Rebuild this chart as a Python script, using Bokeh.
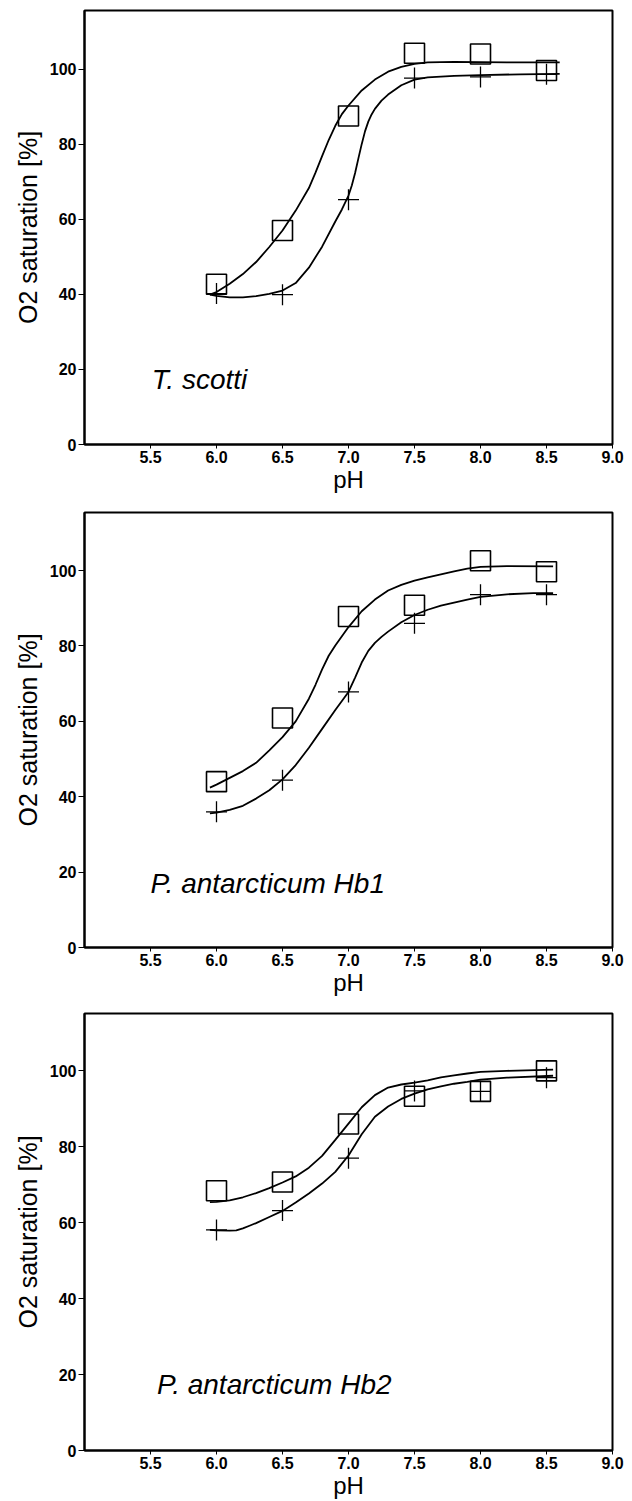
from bokeh.plotting import figure
from bokeh.layouts import column
from bokeh.models import Range1d, FixedTicker, PrintfTickFormatter, Label
from bokeh.embed import file_html
from bokeh.resources import INLINE

# Measured pH values
ph = [6.0, 6.5, 7.0, 7.5, 8.0, 8.5]

# T. scotti: O2 saturation (%) for the two series
scotti_square = [42.7, 57.0, 87.5, 104.2, 104.0, 99.6]
scotti_cross = [40.2, 39.9, 65.2, 97.6, 97.9, 98.6]

# P. antarcticum Hb1
hb1_square = [44.0, 60.9, 87.8, 90.8, 102.6, 99.7]
hb1_cross = [36.0, 44.4, 67.8, 86.0, 93.6, 93.6]

# P. antarcticum Hb2
hb2_square = [68.4, 70.7, 86.0, 93.3, 94.6, 100.0]
hb2_cross = [58.1, 63.2, 77.0, 94.7, 94.6, 98.2]

# Fitted curves (pH, saturation)
scotti_fit_sq_x = [5.95, 6.0, 6.1, 6.2, 6.3, 6.4, 6.5, 6.6, 6.7, 6.75, 6.8, 6.85, 6.9, 6.95,
                   7.0, 7.1, 7.2, 7.3, 7.4, 7.5, 7.6, 7.8, 8.2, 8.6]
scotti_fit_sq_y = [39.9, 40.6, 42.8, 45.4, 48.6, 52.6, 57.0, 62.3, 68.3, 72.4, 76.8, 81.1, 84.9, 88.0,
                   90.3, 94.3, 97.2, 99.3, 100.6, 101.4, 101.8, 101.9, 101.8, 101.8]
scotti_fit_cr_x = [5.95, 6.0, 6.1, 6.2, 6.3, 6.4, 6.5, 6.6, 6.7, 6.8, 6.9, 6.95, 7.0, 7.025, 7.05,
                   7.075, 7.1, 7.125, 7.15, 7.175, 7.2, 7.25, 7.3, 7.4, 7.5, 7.6, 7.8, 8.0, 8.3, 8.6]
scotti_fit_cr_y = [39.9, 39.6, 39.2, 39.2, 39.5, 40.1, 41.0, 43.0, 47.1, 52.7, 59.4, 62.6, 66.3, 69.0, 72.3,
                   76.2, 80.0, 83.4, 86.0, 87.9, 89.4, 91.6, 93.2, 95.7, 97.2, 97.8, 98.2, 98.4, 98.6, 98.7]

hb1_fit_sq_x = [5.95, 6.0, 6.1, 6.2, 6.3, 6.4, 6.5, 6.6, 6.7, 6.75, 6.8, 6.85, 6.9, 7.0, 7.1,
                7.2, 7.3, 7.4, 7.5, 7.6, 7.7, 7.8, 7.9, 8.0, 8.2, 8.55]
hb1_fit_sq_y = [42.4, 43.2, 45.0, 46.8, 49.0, 52.3, 55.8, 60.0, 66.0, 69.7, 73.8, 77.4, 80.1, 85.0, 89.2,
                92.3, 94.7, 96.2, 97.3, 98.2, 99.0, 99.8, 100.5, 101.0, 101.2, 101.1]
hb1_fit_cr_x = [5.95, 6.0, 6.1, 6.2, 6.3, 6.4, 6.5, 6.6, 6.7, 6.8, 6.9, 7.0, 7.05, 7.1, 7.15,
                7.2, 7.25, 7.3, 7.4, 7.5, 7.6, 7.7, 7.8, 7.9, 8.0, 8.2, 8.4, 8.55]
hb1_fit_cr_y = [35.6, 35.8, 36.5, 37.6, 39.5, 41.7, 44.6, 48.4, 53.0, 58.0, 63.0, 67.8, 71.6, 75.6, 78.7,
                80.8, 82.4, 83.8, 86.3, 88.2, 89.6, 90.7, 91.5, 92.3, 93.0, 93.7, 94.0, 94.0]

hb2_fit_sq_x = [5.95, 6.0, 6.1, 6.2, 6.3, 6.4, 6.5, 6.6, 6.7, 6.8, 6.9, 7.0, 7.1, 7.2, 7.3,
                7.4, 7.5, 7.6, 7.7, 7.8, 7.9, 8.0, 8.2, 8.55]
hb2_fit_sq_y = [65.4, 65.5, 65.9, 66.7, 67.8, 69.1, 70.6, 72.2, 74.5, 77.6, 81.8, 86.1, 90.4, 93.6, 95.6,
                96.4, 96.9, 97.5, 98.3, 98.8, 99.3, 99.7, 100.0, 100.3]
hb2_fit_cr_x = [5.95, 6.0, 6.1, 6.15, 6.2, 6.25, 6.3, 6.4, 6.5, 6.6, 6.7, 6.8, 6.9, 7.0, 7.1, 7.2,
                7.3, 7.4, 7.5, 7.6, 7.7, 7.8, 7.9, 8.0, 8.2, 8.55]
hb2_fit_cr_y = [58.1, 58.0, 57.9, 58.0, 58.5, 59.2, 59.9, 61.5, 63.1, 65.3, 67.7, 70.3, 73.4, 77.7, 83.3, 87.9,
                90.6, 92.6, 94.0, 95.1, 95.9, 96.6, 97.1, 97.7, 98.2, 98.7]

x_ticks = [5.5, 6.0, 6.5, 7.0, 7.5, 8.0, 8.5, 9.0]
y_ticks = [0, 20, 40, 60, 80, 100]

FONT = "Liberation Sans"


def panel(name, name_x, name_y, sq, cr, fit_sq, fit_cr, ymax, height, left, right, top, bottom):
    p = figure(width=632, height=height, x_range=Range1d(5.0, 9.0), y_range=Range1d(0, ymax),
               output_backend="svg", toolbar_location=None,
               min_border_left=left, min_border_right=right,
               min_border_top=top, min_border_bottom=bottom)
    p.xgrid.visible = False
    p.ygrid.visible = False
    p.outline_line_color = "black"
    p.outline_line_width = 2
    p.background_fill_color = "white"
    p.border_fill_color = "white"

    for ax in (p.xaxis[0], p.yaxis[0]):
        ax.axis_line_width = 2
        ax.axis_line_color = "black"
        ax.major_tick_line_color = "black"
        ax.major_tick_line_width = 1
        ax.minor_tick_line_color = None
        ax.major_tick_in = 0
        ax.major_label_text_font = FONT
        ax.major_label_text_font_style = "bold"
        ax.major_label_text_font_size = "16px"
        ax.major_label_text_color = "black"
        ax.axis_label_text_font = FONT
        ax.axis_label_text_font_style = "normal"
        ax.axis_label_text_color = "black"

    p.xaxis.ticker = FixedTicker(ticks=x_ticks)
    p.xaxis.formatter = PrintfTickFormatter(format="%.1f")
    p.xaxis.major_tick_out = 4
    p.xaxis.major_label_standoff = 2
    p.xaxis.axis_label = "pH"
    p.xaxis.axis_label_text_font_size = "24px"
    p.xaxis.axis_label_standoff = 0

    p.yaxis.ticker = FixedTicker(ticks=y_ticks)
    p.yaxis.major_tick_out = 6
    p.yaxis.major_label_standoff = 2
    p.yaxis.axis_label = "O2 saturation [%]"
    p.yaxis.axis_label_text_font_size = "25px"
    p.yaxis.axis_label_standoff = 5

    p.line(fit_sq[0], fit_sq[1], line_color="black", line_width=1.8)
    p.line(fit_cr[0], fit_cr[1], line_color="black", line_width=1.8)
    p.scatter(ph, sq, marker="square", size=20, fill_alpha=0, line_color="black", line_width=1.6)
    p.scatter(ph, cr, marker="cross", size=21, line_color="black", line_width=1.3)

    p.add_layout(Label(x=name_x, y=name_y, text=name, text_font=FONT, text_font_style="italic",
                       text_font_size="28px", text_color="black", text_baseline="alphabetic"))
    return p


p1 = panel("T. scotti", 5.51, 17.3, scotti_square, scotti_cross,
           (scotti_fit_sq_x, scotti_fit_sq_y), (scotti_fit_cr_x, scotti_fit_cr_y),
           115.6, 495, 84, 14, 10, 51)
p2 = panel("P. antarcticum Hb1", 5.5, 16.9, hb1_square, hb1_cross,
           (hb1_fit_sq_x, hb1_fit_sq_y), (hb1_fit_cr_x, hb1_fit_cr_y),
           115.4, 503, 82, 19, 17, 50)
p3 = panel("P. antarcticum Hb2", 5.55, 17.5, hb2_square, hb2_cross,
           (hb2_fit_sq_x, hb2_fit_sq_y), (hb2_fit_cr_x, hb2_fit_cr_y),
           115.1, 503, 78, 20, 15, 50)

layout = column(p1, p2, p3, spacing=0)
open("out.html", "w").write(file_html(layout, INLINE))
